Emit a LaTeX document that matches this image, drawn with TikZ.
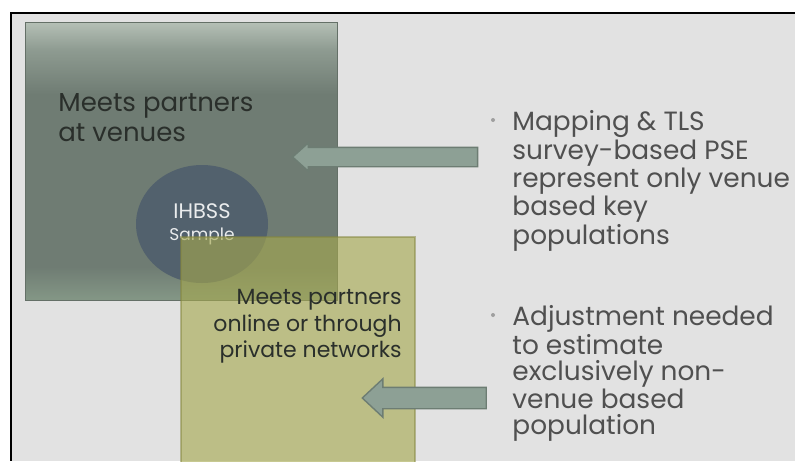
\documentclass[tikz,border=0pt]{standalone}
\usepackage{fontspec}
\setmainfont{Poppins}
\usetikzlibrary{positioning, shapes.arrows, shapes.geometric}
\definecolor{slidegray}{HTML}{E2E2E2}
\definecolor{venuetop}{HTML}{B5C0B6}
\definecolor{venueup}{HTML}{8E9B91}
\definecolor{venuemid}{HTML}{6F7C73}
\definecolor{venuebot}{HTML}{849786}
\definecolor{onlineolive}{HTML}{A5A84E}
\definecolor{sampleblue}{HTML}{52616D}
\definecolor{arrowfill}{HTML}{8DA095}
\definecolor{arrowline}{HTML}{6D7D73}
\definecolor{bodytext}{HTML}{505050}
\definecolor{darktext}{HTML}{2A2F2B}
\pgfdeclareverticalshading{venueshade}{100bp}{color(0bp)=(venuebot); color(25bp)=(venuebot); color(31bp)=(venuemid); color(62bp)=(venuemid); color(70bp)=(venueup); color(75bp)=(venuetop); color(100bp)=(venuetop)}
\tikzset{
  venuebox/.style={draw=venuemid!90!black, line width=0.4pt, shading=venueshade, inner sep=0pt},
  onlinebox/.style={draw=onlineolive!80!black, draw opacity=0.5, line width=0.6pt, fill=onlineolive, fill opacity=0.62, inner sep=0pt},
  sampleoval/.style={ellipse, fill=sampleblue, inner sep=0pt, align=center, text=white!88!sampleblue},
  boxlabel/.style={inner sep=0pt, text=darktext},
  pointer/.style={single arrow, shape border rotate=180, draw=arrowline, line width=0.7pt, fill=arrowfill, inner xsep=0pt, text height=0pt, text depth=0pt, text width=0pt},
  bullettext/.style={inner sep=0pt, align=left, text=bodytext, font=\fontsize{13.2}{13}\selectfont},
  dotmark/.style={circle, fill=bodytext!55, inner sep=0pt, minimum size=2pt},
}
\begin{document}
\begin{tikzpicture}[x=0.5pt, y=-0.5pt]
  \useasboundingbox (0,0) rectangle (795,461);
  \fill[white] (0,0) rectangle (795,461);
  \fill[slidegray] (11,13) rectangle (795,461);
  \draw[line width=1pt] (10,13) -- (795,13);
  \draw[line width=1pt] (11,13) -- (11,461);

  % the two groups
  \node[venuebox, minimum width=156pt, minimum height=139pt] (venues) at (181,161) {};
  \node[sampleoval, minimum width=66pt, minimum height=59pt] (ihbss) at (202,224)
    {\fontsize{10.5}{12}\selectfont IHBSS\\[-1pt]\fontsize{8.5}{10}\selectfont Sample};
  \node[onlinebox, minimum width=117pt, minimum height=116.5pt] (online) at (298,353.5) {};
  \node[boxlabel, anchor=north west, align=left, font=\fontsize{13}{15}\selectfont] (venuelbl) at (58,93)
    {Meets partners\\at venues};
  \node[boxlabel, anchor=north east, align=right, font=\fontsize{11}{13.25}\selectfont] (onlinelbl) at (402,289)
    {Meets partners\\online or through\\private networks};

  % arrows
  \node[pointer, minimum height=92.5pt, inner ysep=4.5pt, single arrow head extend=2.25pt, single arrow tip angle=84] (arrvenue) at (390.5,157) {};
  \node[pointer, minimum height=62pt, inner ysep=5pt, single arrow head extend=4.25pt, single arrow tip angle=86] (arronline) at (430,398) {};

  % bullets
  \node[bullettext, anchor=north west] (pse) at (512,110)
    {Mapping \& TLS\\survey-based PSE\\represent only venue\\based key\\populations};
  \node[dotmark] (psedot) at (493,120) {};
  \node[bullettext, anchor=north west] (adjust) at (512,305)
    {Adjustment needed\\to estimate\\exclusively non-\\venue based\\population};
  \node[dotmark] (adjustdot) at (493,315) {};
\end{tikzpicture}
\end{document}
